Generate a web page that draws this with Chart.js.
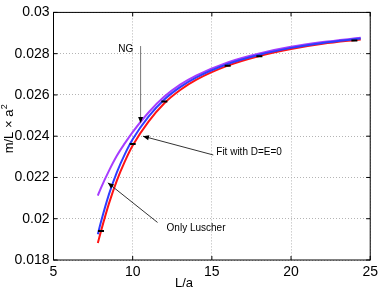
<!DOCTYPE html>
<html lang="en">
<head>
<meta charset="UTF-8">
<title>m/L vs L/a</title>
<script src="https://cdn.jsdelivr.net/npm/chart.js@4.4.0/dist/chart.umd.min.js"></script>
<style>
    html, body { margin: 0; padding: 0; background: white; }
    .chart-container { width: 382px; height: 291px; position: relative; }
</style>
</head>
<body>
<div class="chart-container"><canvas id="massChart"></canvas></div>
<script>
// curves
const lValues = [7.8, 8, 8.5, 9, 9.5, 10, 11, 12, 13, 14, 16, 18, 20, 22, 24.4];
const ngCurve = [0.02112, 0.02150, 0.02232, 0.02305, 0.02365, 0.02420, 0.02515, 0.02592, 0.02650, 0.02694, 0.02758, 0.02801, 0.02833, 0.02856, 0.02877];
const fitCurve = [0.01925, 0.01985, 0.02118, 0.02225, 0.02312, 0.02385, 0.02495, 0.02578, 0.02638, 0.02684, 0.02750, 0.02795, 0.02828, 0.02852, 0.02873];
const luscherCurve = [0.01882, 0.01940, 0.02073, 0.02185, 0.02277, 0.02355, 0.02471, 0.02560, 0.02624, 0.02673, 0.02742, 0.02789, 0.02823, 0.02848, 0.02869];

// lattice data points
const latticeL = [8, 10, 12, 16, 18, 24];
const latticeMass = [0.0194, 0.02362, 0.02568, 0.02741, 0.02787, 0.02864];

const xTicks = [5, 10, 15, 20, 25];
const yTicks = [0.018, 0.02, 0.022, 0.024, 0.026, 0.028, 0.03];

function toPoints(xs, ys) {
    return xs.map((x, i) => ({ x: x, y: ys[i] }));
}

const FONT = '"Liberation Sans", Arial, sans-serif';

function drawArrow(ctx, x1, y1, x2, y2, color) {
    const ang = Math.atan2(y2 - y1, x2 - x1);
    ctx.strokeStyle = color;
    ctx.lineWidth = 1;
    ctx.beginPath();
    ctx.moveTo(x1, y1);
    ctx.lineTo(x2, y2);
    ctx.stroke();
    ctx.fillStyle = '#000';
    ctx.beginPath();
    ctx.moveTo(x2, y2);
    ctx.lineTo(x2 - 6 * Math.cos(ang) + 2.5 * Math.sin(ang), y2 - 6 * Math.sin(ang) - 2.5 * Math.cos(ang));
    ctx.lineTo(x2 - 6 * Math.cos(ang) - 2.5 * Math.sin(ang), y2 - 6 * Math.sin(ang) + 2.5 * Math.cos(ang));
    ctx.closePath();
    ctx.fill();
}

// frame with inward ticks, text notes and axis titles (matlab look)
const matlabFrame = {
    id: 'matlabFrame',
    afterDatasetsDraw(chart) {
        const ctx = chart.ctx;
        const a = chart.chartArea;
        const xs = chart.scales.x, ys = chart.scales.y;
        ctx.save();
        ctx.strokeStyle = '#000';
        ctx.lineWidth = 1;
        ctx.strokeRect(a.left, a.top, a.right - a.left, a.bottom - a.top);
        ctx.beginPath();
        xTicks.forEach(v => {
            const px = xs.getPixelForValue(v);
            ctx.moveTo(px, a.bottom); ctx.lineTo(px, a.bottom - 4);
            ctx.moveTo(px, a.top); ctx.lineTo(px, a.top + 4);
        });
        yTicks.forEach(v => {
            const py = ys.getPixelForValue(v);
            ctx.moveTo(a.left, py); ctx.lineTo(a.left + 4, py);
            ctx.moveTo(a.right, py); ctx.lineTo(a.right - 4, py);
        });
        ctx.stroke();

        // notes
        const px = v => xs.getPixelForValue(v);
        const py = v => ys.getPixelForValue(v);
        ctx.font = '10px ' + FONT;
        ctx.fillStyle = '#000';
        ctx.textBaseline = 'middle';
        ctx.textAlign = 'center';
        ctx.fillText('NG', px(9.56), py(0.02822));
        ctx.textAlign = 'left';
        ctx.fillText('Fit with D=E=0', px(15.28), py(0.02323));
        ctx.fillText('Only Luscher', px(12.14), py(0.01954));
        drawArrow(ctx, px(10.5), py(0.02837), px(10.5), py(0.02464), '#777');
        drawArrow(ctx, px(15.09), py(0.02309), px(10.65), py(0.0240), '#333');
        drawArrow(ctx, px(11.57), py(0.01982), px(8.43), py(0.02174), '#333');

        // axis titles
        ctx.font = '13px ' + FONT;
        ctx.textAlign = 'center';
        ctx.fillText('L/a', 184, 283);
        ctx.translate(9, 129);
        ctx.rotate(-Math.PI / 2);
        const main = 'm/L \u00d7 a';
        const w1 = ctx.measureText(main).width;
        ctx.font = '9px ' + FONT;
        const w2 = ctx.measureText('2').width;
        ctx.textAlign = 'left';
        ctx.fillText('2', -(w1 + w2) / 2 + w1 + 0.5, -4);
        ctx.font = '13px ' + FONT;
        ctx.fillText(main, -(w1 + w2) / 2, 0);
        ctx.restore();
    }
};

const ctx = document.getElementById('massChart').getContext('2d');
const chart = new Chart(ctx, {
    type: 'scatter',
    data: {
        datasets: [
            {
                label: 'Lattice',
                data: toPoints(latticeL, latticeMass),
                pointStyle: 'line',
                pointRadius: 3,
                borderWidth: 2,
                borderColor: '#000',
                backgroundColor: '#000',
                showLine: false
            },
            {
                label: 'Fit with D=E=0',
                data: toPoints(lValues, fitCurve),
                showLine: true,
                borderColor: '#2f3cff',
                borderWidth: 2,
                pointRadius: 0,
                cubicInterpolationMode: 'monotone'
            },
            {
                label: 'Only Luscher',
                data: toPoints(lValues, luscherCurve),
                showLine: true,
                borderColor: '#ff1414',
                borderWidth: 2,
                pointRadius: 0,
                cubicInterpolationMode: 'monotone'
            },
            {
                label: 'NG',
                data: toPoints(lValues, ngCurve),
                showLine: true,
                borderColor: '#a63cff',
                borderWidth: 2,
                pointRadius: 0,
                cubicInterpolationMode: 'monotone'
            }
        ]
    },
    options: {
        responsive: true,
        maintainAspectRatio: false,
        animation: false,
        layout: { padding: { top: 10, right: 10, left: 0, bottom: 0 } },
        plugins: {
            legend: { display: false },
            tooltip: { enabled: false }
        },
        scales: {
            x: {
                type: 'linear',
                min: 5,
                max: 25,
                afterFit: s => { s.height = 31; },
                afterBuildTicks: s => { s.ticks = xTicks.map(v => ({ value: v })); },
                ticks: {
                    padding: 4,
                    color: '#000',
                    font: { family: FONT, size: 14 }
                },
                grid: { color: '#b4b4b4', drawTicks: false },
                border: { display: false, dash: [1, 2] }
            },
            y: {
                type: 'linear',
                min: 0.018,
                max: 0.03,
                afterFit: s => { s.width = 53.5; },
                afterBuildTicks: s => { s.ticks = yTicks.map(v => ({ value: v })); },
                ticks: {
                    padding: 4,
                    color: '#000',
                    font: { family: FONT, size: 14 },
                    callback: v => String(+v.toFixed(4))
                },
                grid: { color: '#b4b4b4', drawTicks: false },
                border: { display: false, dash: [1, 2] }
            }
        }
    },
    plugins: [matlabFrame]
});
</script>
</body>
</html>
